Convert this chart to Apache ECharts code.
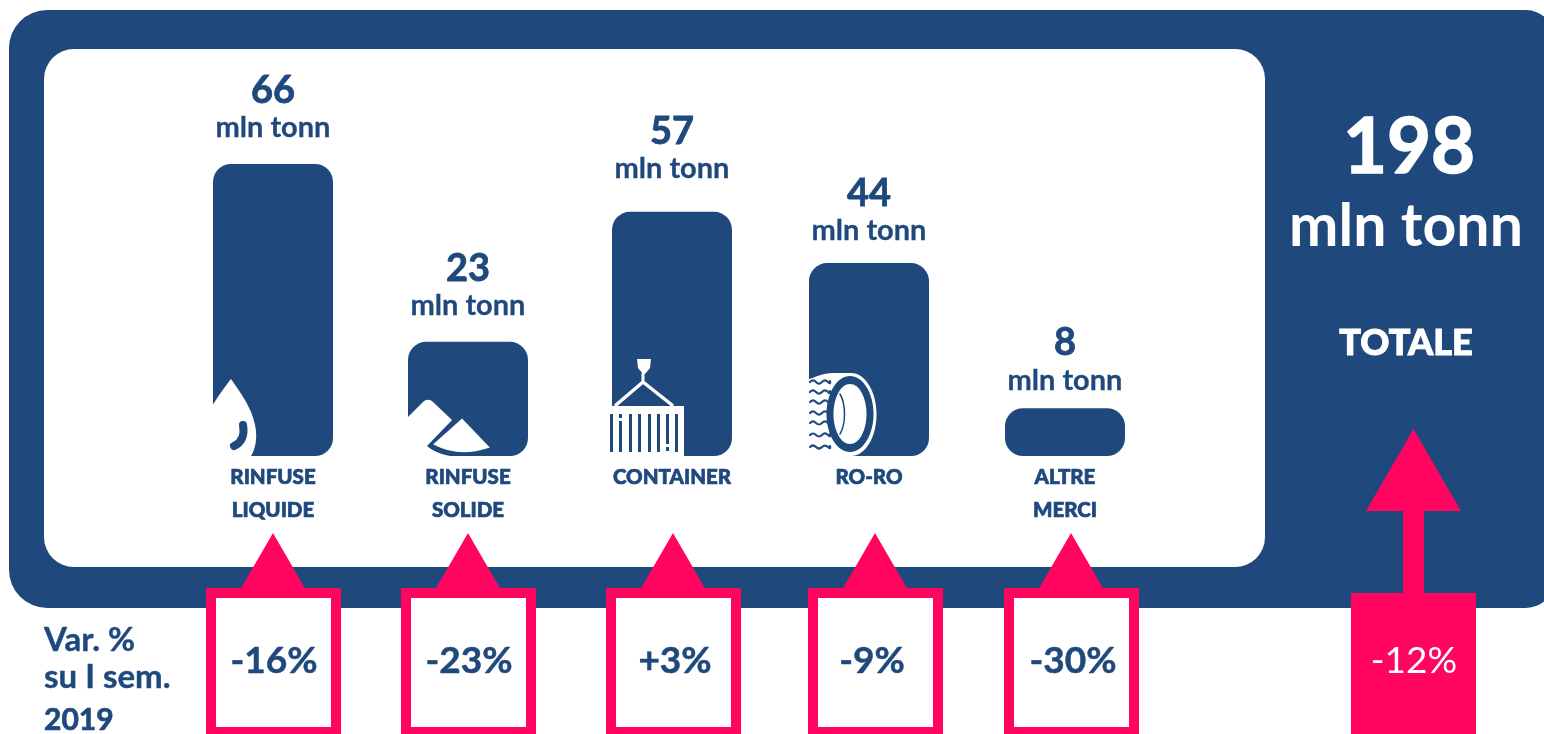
<!DOCTYPE html>
<html>
<head>
<meta charset="utf-8">
<title>Traffico merci</title>
<style>
html, body { margin: 0; padding: 0; background: #fff; }
#main { width: 1544px; height: 734px; }
</style>
<script src="https://cdn.jsdelivr.net/npm/echarts@6/dist/echarts.min.js"></script>
</head>
<body>
<div id="main"></div>
<script>
var categories = ['RINFUSE\nLIQUIDE', 'RINFUSE\nSOLIDE', 'CONTAINER', 'RO-RO', 'ALTRE\nMERCI'];
var tonnes = [66, 23, 57, 44, 8];
// the bars of the original are not to scale with their labels: this is the level each one is drawn to
var barLevels = [66, 25.8, 55.2, 43.6, 10.8];
var variations = ['-16%', '-23%', '+3%', '-9%', '-30%'];
var totalTonnes = 198;
var totalVariation = '-12%';
var unit = 'mln tonn';
var varTitle = ['Var. %', 'su I sem.', '2019'];

var NAVY = '#1f497d';
var PINK = '#ff0560';
var FONT = 'Lato';

// small hand placement of the columns, they are not evenly spaced
var barShift = [0, -3, 3, 2, 0];
var boxShift = [0, -3, 4, 8, 6];
var boxTextShift = [1, 1, 2, -3, 2];
var labelShift = [0, 0, -7, 4, 8];

function txt(x, y, text, size, weight, fill, align, thick) {
	return {
		type: 'text',
		x: x,
		y: y,
		style: {
			text: text,
			fill: fill || NAVY,
			stroke: thick ? (fill || NAVY) : 'none',
			lineWidth: thick || 0,
			fontFamily: FONT,
			fontSize: size,
			fontWeight: weight,
			align: align || 'center',
			verticalAlign: 'middle'
		}
	};
}

function path(d, fill, stroke, lineWidth) {
	return {
		type: 'path',
		shape: {pathData: d},
		style: {fill: fill || 'none', stroke: stroke || 'none', lineWidth: lineWidth || 0, lineCap: 'round'}
	};
}

// icons, origin is the bottom left corner of the bar
function iconDrop() {
	return [
		path('M18,-77 C27,-64 39,-48 42,-31 C45,-18 42,-6 38,0 L-2,0 L-2,-48 C5,-60 11,-68 18,-77 Z', '#fff'),
		path('M30,-31 C32,-20 28,-13 21,-10', null, NAVY, 8)
	];
}

function iconPile() {
	return [
		path('M-1,-38 L15,-54 C18,-57 22,-57 25,-54 L44,-36 L19,-10 C28,-3 36,-1 48,1 L-1,1 Z', '#fff'),
		path('M54,-36 L80,-9 C62,-3 44,-3 27,-12 Z', '#fff', '#fff', 2)
	];
}

function iconContainer() {
	var els = [
		path('M25,-97 L39,-97 L38,-88 L33,-82 L31,-82 L26,-88 Z', '#fff'),
		path('M31,-82 L31,-74', null, '#fff', 3),
		path('M31,-74 L4,-51 M31,-74 L60,-51', null, '#fff', 3.5),
		{type: 'rect', shape: {x: -4, y: -50, width: 76, height: 50}, style: {fill: '#fff'}}
	];
	var xs = [-2, 7, 17, 26, 36, 45, 54, 63];
	xs.forEach(function (x, i) {
		var top = -42, bottom = -4;
		if (i === 1) {
			els.push({type: 'rect', shape: {x: x, y: top, width: 3, height: 4}, style: {fill: NAVY}});
			top = -35;
		}
		if (i === 6) {
			els.push({type: 'rect', shape: {x: x, y: -9, width: 3, height: 4}, style: {fill: NAVY}});
			bottom = -12;
		}
		els.push({type: 'rect', shape: {x: x, y: top, width: 3, height: bottom - top}, style: {fill: NAVY}});
	});
	return els;
}

function iconTire() {
	var els = [
		path('M-2,-76 C6,-79 14,-83 24,-83 L42,-83 L42,0 L-2,0 Z', '#fff'),
		{type: 'ellipse', shape: {cx: 42, cy: -41.5, rx: 25.5, ry: 41.5}, style: {fill: '#fff'}},
		{type: 'ellipse', shape: {cx: 41, cy: -42, rx: 23.5, ry: 38}, style: {fill: NAVY}},
		{type: 'ellipse', shape: {cx: 41, cy: -42, rx: 16.5, ry: 30}, style: {fill: '#fff'}},
		path('M31,-62 C37,-52 37,-32 31,-22', null, NAVY, 1.5)
	];
	[-74, -64, -54, -43, -33, -21, -9].forEach(function (y) {
		els.push(path('M1,' + y + ' q3,-3 6,0 t6,0 t6,0 t2,-1', null, NAVY, 2.2));
	});
	return els;
}

var icons = [iconDrop, iconPile, iconContainer, iconTire, null];

function renderBar(params, api) {
	var i = api.value(0);
	var p = api.coord([i, api.value(1)]);
	var base = api.coord([i, 0]);
	var cx = p[0] + barShift[i];
	var w = 120;
	var children = [{
		type: 'rect',
		shape: {x: cx - w / 2, y: p[1], width: w, height: base[1] - p[1], r: 18},
		style: {fill: NAVY}
	}];
	if (icons[i]) {
		children.push({
			type: 'group',
			x: cx - w / 2,
			y: base[1],
			children: icons[i]()
		});
	}
	children.push(txt(cx, p[1] - 73 + labelShift[i], String(tonnes[i]), 38, 700, NAVY, 'center', 0.8));
	children.push(txt(cx, p[1] - 36 + labelShift[i], unit, 29, 700, NAVY, 'center', 0.3));
	categories[i].split('\n').forEach(function (line, n) {
		children.push(txt(cx, base[1] + 21 + n * 33, line, 20.5, 900, NAVY, 'center', 0.7));
	});
	return {type: 'group', children: children};
}

function renderVariation(params, api) {
	var i = api.value(0);
	var base = api.coord([i, 0]);
	var cx = base[0] + boxShift[i];
	var top = base[1] + 133;
	return {
		type: 'group',
		children: [
			{
				type: 'polygon',
				shape: {points: [[cx, top - 56], [cx + 33, top + 1], [cx - 33, top + 1]]},
				style: {fill: PINK}
			},
			{
				type: 'rect',
				shape: {x: cx - 62, y: top + 4, width: 125, height: 139},
				style: {fill: '#fff', stroke: PINK, lineWidth: 10}
			},
			txt(cx + boxTextShift[i], top + 72, variations[i], 37, 700, NAVY, 'center', 0.5)
		]
	};
}

var barData = barLevels.map(function (v, i) { return [i, v]; });
var varData = variations.map(function (v, i) { return [i, 0]; });

var myChart = echarts.init(document.getElementById('main'), null, {renderer: 'canvas'});
var option = {
	animation: false,
	backgroundColor: '#fff',
	grid: {left: 174, top: 164, width: 990, height: 292},
	xAxis: {type: 'category', data: categories, show: false},
	yAxis: {type: 'value', min: 0, max: 66, show: false},
	graphic: {
		elements: [
			{
				type: 'rect',
				z: -10,
				shape: {x: 9, y: 10, width: 1545, height: 598, r: [38, 28, 28, 38]},
				style: {fill: NAVY}
			},
			{
				type: 'rect',
				z: -9,
				shape: {x: 44, y: 49, width: 1221, height: 518, r: 30},
				style: {fill: '#fff'}
			},
			{
				type: 'group',
				z: 10,
				children: [
					txt(1409, 148, String(totalTonnes), 76, 700, '#fff', 'center', 1.5),
					txt(1406, 227, unit, 59, 700, '#fff'),
					txt(1406, 343, 'TOTALE', 36, 900, '#fff', 'center', 1),
					{type: 'polygon', shape: {points: [[1413.5, 429], [1461, 511], [1366, 511]]}, style: {fill: PINK}},
					{type: 'rect', shape: {x: 1403, y: 510, width: 21, height: 85}, style: {fill: PINK}},
					{type: 'rect', shape: {x: 1351, y: 593, width: 125, height: 141}, style: {fill: PINK}},
					txt(1414, 661, totalVariation, 37, 400, '#fff'),
					txt(44, 640, varTitle[0], 33, 700, NAVY, 'left', 0.4),
					txt(44, 677, varTitle[1], 33, 700, NAVY, 'left', 0.4),
					txt(44, 720, varTitle[2], 30, 700, NAVY, 'left', 0.7)
				]
			}
		]
	},
	series: [
		{
			name: 'tonn',
			type: 'custom',
			coordinateSystem: 'cartesian2d',
			data: barData,
			renderItem: renderBar,
			clip: false
		},
		{
			name: 'var',
			type: 'custom',
			coordinateSystem: 'cartesian2d',
			data: varData,
			renderItem: renderVariation,
			clip: false
		}
	]
};
myChart.setOption(option);
</script>
</body>
</html>
